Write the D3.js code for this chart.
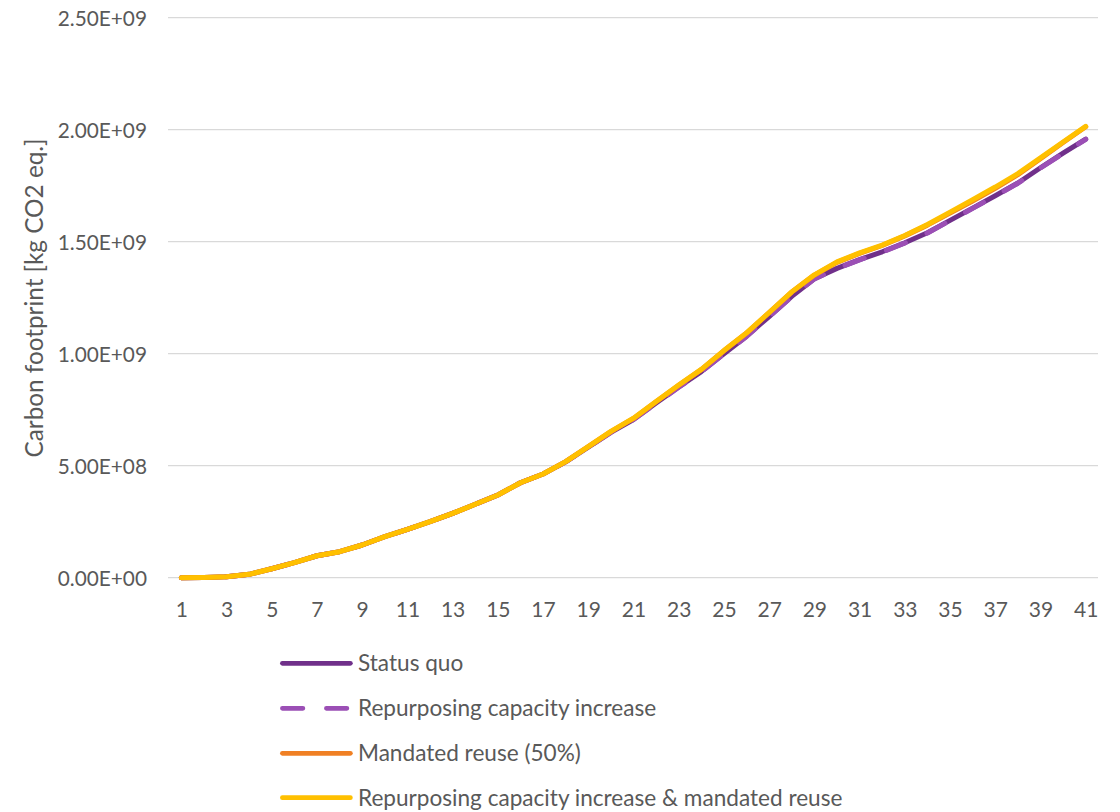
<!DOCTYPE html>
<html>
<head>
<meta charset="utf-8">
<script src="https://cdn.jsdelivr.net/npm/d3@7"></script>
<style>
  html, body { margin: 0; padding: 0; background: #ffffff; }
  svg { display: block; }
  text { font-family: Lato, "Open Sans", sans-serif; fill: #595959; }
</style>
</head>
<body>
<svg id="chart" width="1120" height="812"></svg>
<script>
// ---- data (values in kg CO2 eq.) ----
const years = d3.range(1, 42);
const xTickLabels = ["1","3","5","7","9","11","13","15","17","19","21","23","25","27","29","31","33","35","37","39","41"];
const yTicks = [0, 5e8, 1e9, 1.5e9, 2e9, 2.5e9];
const yTickLabels = ["0.00E+00","5.00E+08","1.00E+09","1.50E+09","2.00E+09","2.50E+09"];

const statusQuo = [
  0.000e9, 0.001e9, 0.004e9, 0.015e9, 0.040e9, 0.067e9, 0.098e9, 0.116e9, 0.146e9, 0.183e9,
  0.216e9, 0.250e9, 0.287e9, 0.328e9, 0.369e9, 0.424e9, 0.463e9, 0.517e9, 0.583e9, 0.649e9,
  0.706e9, 0.780e9, 0.851e9, 0.920e9, 1.000e9, 1.078e9, 1.166e9, 1.256e9, 1.335e9, 1.381e9,
  1.420e9, 1.455e9, 1.495e9, 1.540e9, 1.595e9, 1.650e9, 1.705e9, 1.762e9, 1.830e9, 1.895e9,
  1.958e9
];
const repurposing = [
  0.000e9, 0.001e9, 0.004e9, 0.015e9, 0.040e9, 0.067e9, 0.098e9, 0.116e9, 0.146e9, 0.183e9,
  0.216e9, 0.250e9, 0.287e9, 0.328e9, 0.369e9, 0.424e9, 0.463e9, 0.517e9, 0.583e9, 0.649e9,
  0.706e9, 0.779e9, 0.850e9, 0.919e9, 0.999e9, 1.077e9, 1.165e9, 1.255e9, 1.334e9, 1.380e9,
  1.419e9, 1.454e9, 1.494e9, 1.539e9, 1.594e9, 1.649e9, 1.704e9, 1.761e9, 1.829e9, 1.894e9,
  1.957e9
];
const mandatedReuse = [
  0.000e9, 0.001e9, 0.004e9, 0.015e9, 0.040e9, 0.067e9, 0.098e9, 0.116e9, 0.146e9, 0.183e9,
  0.216e9, 0.250e9, 0.287e9, 0.328e9, 0.369e9, 0.424e9, 0.463e9, 0.518e9, 0.585e9, 0.652e9,
  0.711e9, 0.786e9, 0.859e9, 0.929e9, 1.013e9, 1.092e9, 1.183e9, 1.275e9, 1.351e9, 1.408e9,
  1.448e9, 1.483e9, 1.526e9, 1.574e9, 1.628e9, 1.682e9, 1.738e9, 1.799e9, 1.871e9, 1.943e9,
  2.013e9
];
const repurposingAndMandated = [
  0.000e9, 0.001e9, 0.004e9, 0.015e9, 0.040e9, 0.067e9, 0.098e9, 0.116e9, 0.146e9, 0.183e9,
  0.216e9, 0.250e9, 0.287e9, 0.328e9, 0.369e9, 0.424e9, 0.463e9, 0.518e9, 0.585e9, 0.653e9,
  0.712e9, 0.787e9, 0.860e9, 0.930e9, 1.014e9, 1.093e9, 1.184e9, 1.276e9, 1.352e9, 1.410e9,
  1.450e9, 1.485e9, 1.528e9, 1.577e9, 1.632e9, 1.687e9, 1.744e9, 1.804e9, 1.874e9, 1.945e9,
  2.015e9
];

const seriesNames = ["Status quo", "Repurposing capacity increase", "Mandated reuse (50%)", "Repurposing capacity increase & mandated reuse"];
const seriesColors = ["#70308A", "#9B4FB5", "#F08024", "#FFC000"];
const seriesDash = [null, "20.5,23.5", null, null];
const seriesValues = [statusQuo, repurposing, mandatedReuse, repurposingAndMandated];

// ---- layout ----
const svg = d3.select("#chart");
const plotLeft = 168, plotRight = 1098, plotTop = 17.7, plotBottom = 577.7;

const x = d3.scalePoint().domain(years).range([170, 1097]).padding(0.5);
const y = d3.scaleLinear().domain([0, 2.5e9]).range([plotBottom, plotTop]);

// gridlines
svg.append("g").selectAll("line").data(yTicks).join("line")
  .attr("x1", plotLeft).attr("x2", plotRight)
  .attr("y1", d => y(d)).attr("y2", d => y(d))
  .attr("stroke", "#d9d9d9").attr("stroke-width", 1.3);

// y axis
const yAxis = d3.axisLeft(y).tickValues(yTicks)
  .tickFormat((d, i) => yTickLabels[i]).tickSize(0).tickPadding(0);
const yg = svg.append("g").attr("transform", "translate(147,0)").call(yAxis);
yg.select(".domain").remove();
yg.selectAll("text").style("font-size", "20.8px").style("font-family", "Lato, 'Open Sans', sans-serif").attr("fill", "#595959").attr("dy", "0.36em");

// x axis
const xAxis = d3.axisBottom(x)
  .tickValues(years.filter(d => xTickLabels.includes(String(d))))
  .tickFormat(d => xTickLabels[xTickLabels.indexOf(String(d))])
  .tickSize(0).tickPadding(0);
const xg = svg.append("g").attr("transform", `translate(0,${plotBottom + 24})`).call(xAxis);
xg.select(".domain").remove();
xg.selectAll("text").style("font-size", "21px").style("font-family", "Lato, 'Open Sans', sans-serif").attr("fill", "#595959").attr("dy", "0.71em");

// y title
svg.append("text")
  .attr("transform", "translate(43,298) rotate(-90)")
  .attr("text-anchor", "middle")
  .style("font-size", "24.3px")
  .text("Carbon footprint [kg CO2 eq.]");

// lines
const line = d3.line().x((d, i) => x(years[i])).y(d => y(d)).curve(d3.curveLinear);
seriesValues.forEach((vals, k) => {
  svg.append("path")
    .datum(vals)
    .attr("d", line)
    .attr("fill", "none")
    .attr("stroke", seriesColors[k])
    .attr("stroke-width", 5)
    .attr("stroke-linejoin", "round")
    .attr("stroke-linecap", "round")
    .attr("stroke-dasharray", seriesDash[k]);
});

// legend
const legendY = [663.3, 708.3, 753.3, 797.7];
const lg = svg.append("g");
seriesNames.forEach((name, k) => {
  lg.append("line")
    .attr("x1", 282.4).attr("x2", 350.4)
    .attr("y1", legendY[k]).attr("y2", legendY[k])
    .attr("stroke", seriesColors[k]).attr("stroke-width", 4.7)
    .attr("stroke-linecap", "round")
    .attr("stroke-dasharray", seriesDash[k]);
  lg.append("text")
    .attr("x", 358).attr("y", legendY[k])
    .attr("dy", "0.36em")
    .style("font-size", "22.6px")
    .text(name);
});
</script>
</body>
</html>
